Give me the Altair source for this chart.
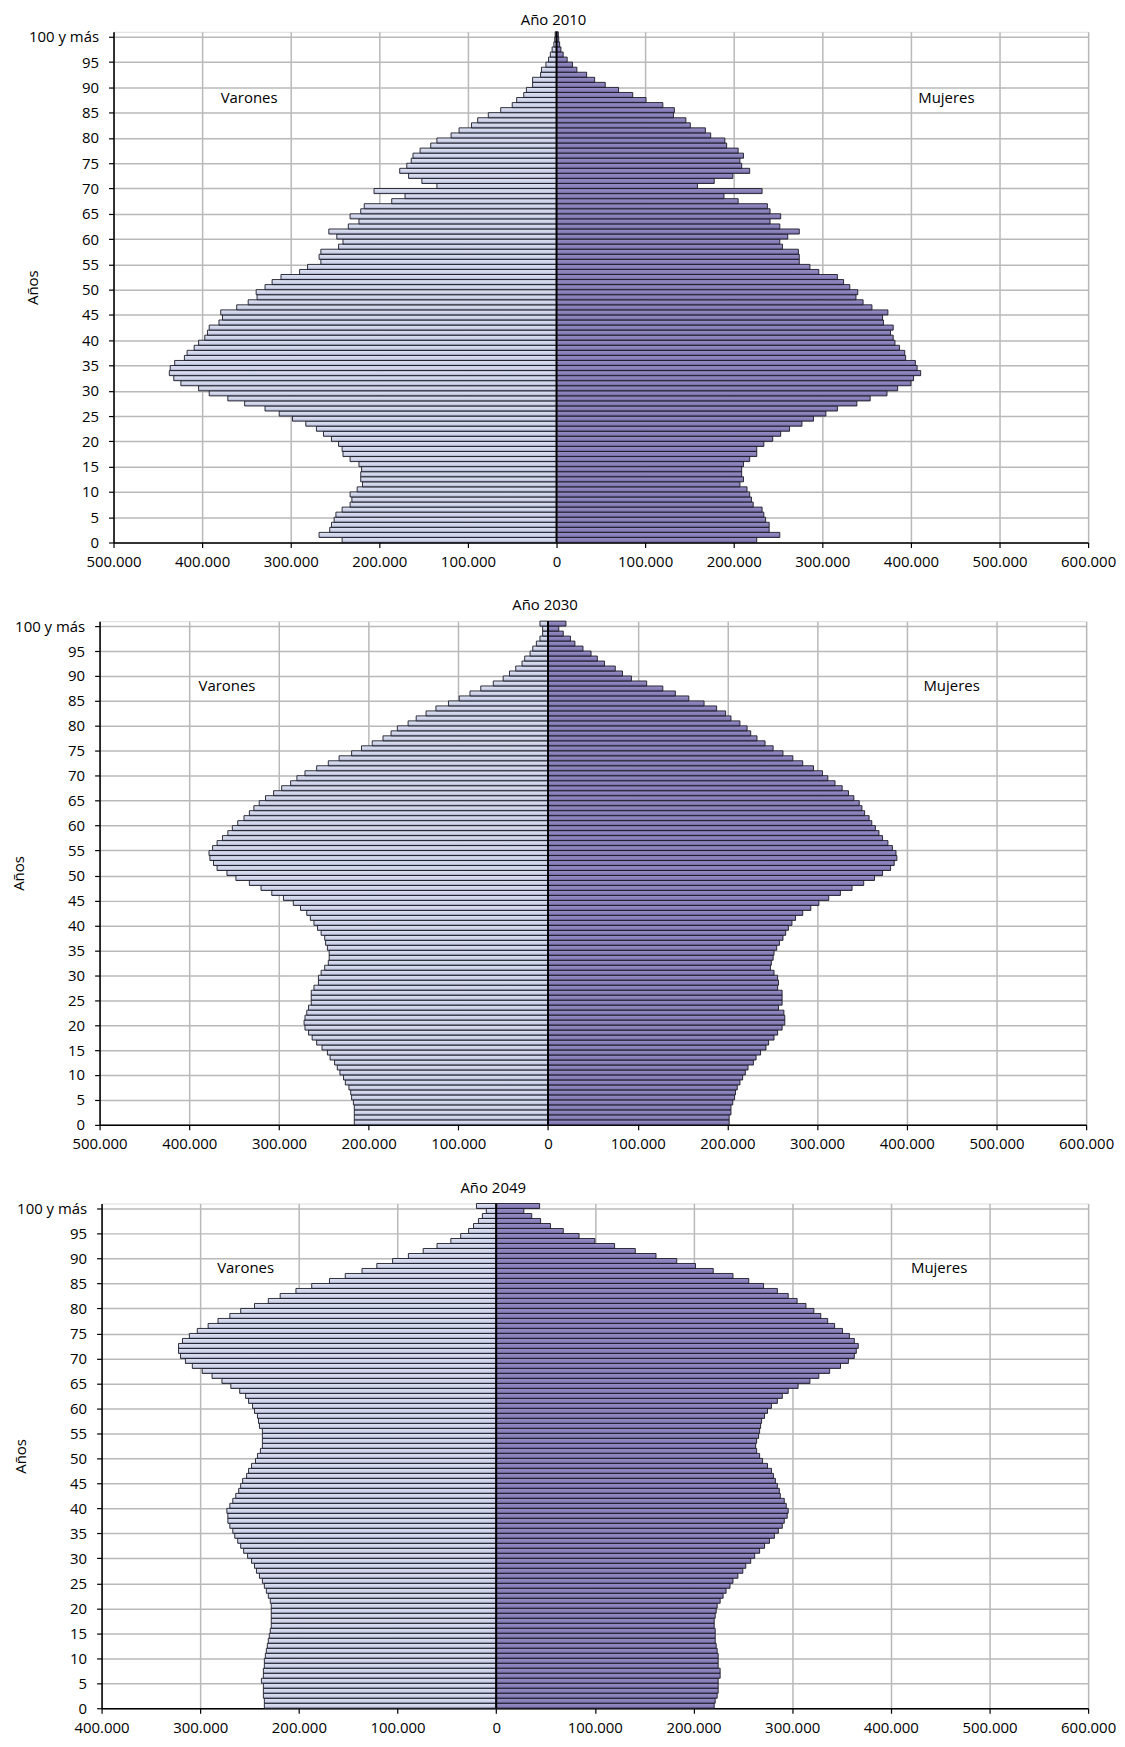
import altair as alt
import pandas as pd

FONT = "Open Sans"

# ---------------- data (population, thousands of persons) ----------------
ages = list(range(101))
titles = ["Año 2010", "Año 2030", "Año 2049"]
x_min = [-500000, -500000, -400000]
x_max = 600000

m2010 = [242, 268, 256, 254, 251, 249, 242, 233, 231, 233,
         225, 219, 221, 221, 220, 223, 233, 241, 242, 246,
         254, 263, 271, 283, 298, 313, 329, 352, 371, 392,
         404, 424, 432, 437, 436, 431, 420, 417, 409, 404,
         397, 394, 392, 381, 377, 379, 361, 348, 338, 339,
         329, 321, 311, 290, 281, 266, 268, 266, 246, 241,
         248, 257, 235, 223, 233, 221, 217, 186, 171, 206,
         135, 152, 167, 177, 169, 164, 162, 154, 142, 135,
         119, 110, 96, 89, 77, 63, 50, 45, 37, 34,
         27, 27, 18, 17, 12, 9, 7, 5, 3, 2,
         1.5]
f2010 = [226, 252, 240, 240, 236, 234, 232, 222, 220, 218,
         215, 207, 211, 209, 209, 211, 218, 226, 226, 234,
         244, 253, 263, 277, 290, 304, 317, 339, 354, 373,
         385, 400, 403, 411, 407, 405, 394, 393, 387, 382,
         380, 377, 380, 369, 368, 374, 356, 346, 338, 340,
         331, 324, 317, 296, 286, 274, 274, 273, 255, 252,
         261, 274, 252, 241, 253, 241, 238, 205, 189, 232,
         159, 178, 199, 218, 209, 207, 211, 205, 192, 190,
         174, 168, 151, 146, 132, 133, 120, 101, 86, 70,
         55, 43, 34, 23, 18, 12, 7.5, 5, 3.5, 2.5,
         2]
m2030 = [216, 216, 216, 216, 217, 219, 220, 222, 226, 228,
         232, 235, 238, 243, 246, 252, 258, 263, 267, 271,
         272, 271, 269, 267, 264, 264, 264, 261, 256, 256,
         253, 249, 245, 244, 244, 246, 248, 249, 253, 257,
         261, 265, 269, 276, 284, 295, 308, 320, 333, 348,
         358, 369, 373, 377, 378, 374, 369, 363, 357, 352,
         346, 339, 333, 328, 322, 315, 306, 297, 287, 280,
         271, 258, 245, 233, 219, 208, 196, 184, 175, 168,
         156, 147, 136, 125, 111, 99, 87, 75, 61, 50,
         43, 36, 29, 26, 20, 17, 13, 9, 6, 6,
         9]
f2030 = [202, 202, 204, 204, 206, 208, 209, 211, 214, 217,
         220, 223, 229, 232, 237, 243, 246, 252, 256, 261,
         264, 264, 263, 257, 261, 261, 261, 256, 257, 256,
         252, 248, 249, 251, 252, 255, 258, 262, 265, 268,
         272, 276, 284, 293, 302, 313, 326, 339, 352, 364,
         373, 382, 386, 389, 388, 384, 379, 373, 369, 365,
         361, 358, 353, 350, 347, 341, 335, 328, 320, 312,
         306, 296, 284, 273, 262, 251, 242, 233, 226, 222,
         214, 204, 198, 188, 174, 157, 142, 128, 110, 93,
         83, 75, 63, 55, 48, 39, 30, 25, 17, 12,
         20]
m2049 = [235, 235, 236, 236, 236, 238, 236, 236, 235, 235,
         234, 233, 232, 231, 230, 229, 228, 228, 228, 228,
         228, 229, 231, 233, 235, 237, 240, 243, 245, 248,
         252, 256, 259, 262, 265, 267, 270, 272, 272, 273,
         270, 267, 264, 261, 259, 257, 253, 251, 248, 244,
         242, 239, 237, 237, 237, 237, 240, 241, 242, 245,
         247, 251, 254, 260, 269, 278, 288, 298, 308, 315,
         320, 322, 322, 318, 311, 303, 292, 282, 270, 259,
         245, 231, 219, 203, 187, 169, 153, 136, 121, 105,
         89, 74, 60, 46, 36, 28, 23, 18, 14, 10,
         20]
f2049 = [221, 222, 224, 225, 225, 225, 227, 227, 225, 225,
         225, 224, 223, 222, 222, 222, 221, 221, 222, 223,
         224, 227, 230, 233, 237, 240, 245, 250, 253, 258,
         262, 267, 272, 277, 282, 286, 290, 292, 295, 296,
         294, 292, 288, 287, 285, 283, 281, 279, 275, 270,
         267, 264, 263, 264, 266, 267, 268, 269, 272, 275,
         279, 285, 290, 296, 306, 318, 327, 338, 349, 357,
         363, 365, 367, 363, 358, 351, 343, 336, 329, 322,
         314, 305, 296, 285, 271, 256, 240, 220, 202, 183,
         162, 141, 120, 100, 84, 68, 55, 45, 36, 28,
         44]

males = [m2010, m2030, m2049]
females = [f2010, f2030, f2049]

label_text = ["Varones", "Mujeres"]
varones_x = [-347000, -358000, -254000]
mujeres_x = [440000, 450000, 449000]
label_age = 88

# ---------------- layout / style ----------------
widths = [979, 991, 991]
heights = [513, 506, 507]
plot_left = [114, 100, 102]      # page x of each plot's left edge
AXIS_ROOM = 90                   # room kept left of each plot for labels/title
title_y = [-12, -16, -16]        # title offset above each plot (px)

MALE_FILL = alt.LinearGradient(
    gradient="linear",
    stops=[alt.GradientStop(color="#dde1f2", offset=0),
           alt.GradientStop(color="#d0d5ea", offset=0.6),
           alt.GradientStop(color="#9ea3c0", offset=1)],
    x1=0, x2=0, y1=0, y2=1)
FEMALE_FILL = alt.LinearGradient(
    gradient="linear",
    stops=[alt.GradientStop(color="#958cc4", offset=0),
           alt.GradientStop(color="#8a81ba", offset=0.6),
           alt.GradientStop(color="#686095", offset=1)],
    x1=0, x2=0, y1=0, y2=1)
STROKE = "#1a1a26"
GRID = "#b9b9b9"


def panel(i):
    df = pd.DataFrame({
        "edad": ages,
        "edad2": [a + 1 for a in ages],
        "varones": [-v * 1000 for v in males[i]],
        "mujeres": [v * 1000 for v in females[i]],
        "cero": [0] * len(ages),
    })
    xscale = alt.Scale(domain=[x_min[i], x_max], nice=False, zero=False)
    yscale = alt.Scale(domain=[0, 101], nice=False, zero=False)
    xaxis = alt.Axis(
        values=list(range(x_min[i], x_max + 1, 100000)),
        labelExpr="datum.value == 0 ? '0' : format(abs(datum.value) / 1000, 'd') + '.000'",
        title=None, grid=True, gridColor=GRID, gridWidth=1.5,
        domainColor="black", domainWidth=1.5, tickColor="black", tickWidth=1.2,
        tickSize=5, labelPadding=7, labelFlush=False, labelFont=FONT,
        labelFontSize=15, labelColor="black")
    yaxis = alt.Axis(
        values=list(range(0, 101, 5)),
        labelExpr="datum.value == 100 ? '100 y más' : datum.label",
        title="Años", titleX=-81, titleY=heights[i] / 2, titleAngle=-90,
        titleAlign="center", titleBaseline="middle", titleFont=FONT,
        titleFontSize=15, titleFontWeight="normal", titleColor="black",
        grid=True, gridColor=GRID, gridWidth=1.5,
        domainColor="black", domainWidth=1.5, tickColor="black", tickWidth=1.2,
        tickSize=5, labelPadding=10, labelFlush=False, labelFont=FONT,
        labelFontSize=15, labelColor="black")

    base = alt.Chart(df)
    men = base.mark_rect(color=MALE_FILL, stroke=STROKE, strokeWidth=0.9).encode(
        x=alt.X("varones:Q", scale=xscale, axis=xaxis), x2="cero:Q",
        y=alt.Y("edad:Q", scale=yscale, axis=yaxis), y2="edad2:Q")
    women = base.mark_rect(color=FEMALE_FILL, stroke=STROKE, strokeWidth=0.9).encode(
        x=alt.X("mujeres:Q", scale=xscale, axis=xaxis), x2="cero:Q",
        y=alt.Y("edad:Q", scale=yscale, axis=yaxis), y2="edad2:Q")
    centre = alt.Chart(pd.DataFrame({"c": [0]})).mark_rule(
        color="black", strokeWidth=2).encode(
        x=alt.X("c:Q", scale=xscale, axis=xaxis))
    lab = alt.Chart(pd.DataFrame({
        "t": label_text,
        "x": [varones_x[i], mujeres_x[i]],
        "y": [label_age, label_age]})).mark_text(
        font=FONT, fontSize=15, color="black").encode(
        x=alt.X("x:Q", scale=xscale, axis=xaxis),
        y=alt.Y("y:Q", scale=yscale, axis=yaxis),
        text="t:N")
    # panel title, centred over the zero line
    ttl = alt.Chart(pd.DataFrame({"t": [titles[i]], "c": [0]})).mark_text(
        font=FONT, fontSize=15, color="black", baseline="middle", dx=-3).encode(
        x=alt.X("c:Q", scale=xscale, axis=xaxis), y=alt.value(title_y[i]),
        text="t:N")
    # invisible anchor: fixes the room kept left of the plot
    anchor = alt.Chart(pd.DataFrame({"t": ["."]})).mark_text(
        opacity=0, align="left", baseline="middle", fontSize=4).encode(
        x=alt.value(-AXIS_ROOM), y=alt.value(heights[i] / 2), text="t:N")

    return alt.layer(men, women, centre, lab, ttl, anchor).properties(
        width=widths[i], height=heights[i])


def spacer(w):
    return alt.Chart(pd.DataFrame({"s": [0]})).mark_rule(
        opacity=0, strokeWidth=0).encode(
        x=alt.value(0), x2=alt.value(0), y=alt.value(0), y2=alt.value(0)).properties(
        width=w, height=1, view=alt.ViewBackground(stroke="transparent"))


rows = []
for i in range(3):
    rows.append(alt.hconcat(spacer(plot_left[i] - 8 - AXIS_ROOM), panel(i),
                            spacing=0).resolve_scale(
        x="independent", y="independent"))

chart = alt.vconcat(*rows, spacing=27).resolve_scale(
    x="independent", y="independent").properties(
    padding={"top": 0, "left": -3, "right": 0, "bottom": 0}).configure_view(
    stroke="black", strokeWidth=1.2).configure(font=FONT, background="white")

chart.save("out.html", embed_options={"renderer": "svg", "actions": False})
